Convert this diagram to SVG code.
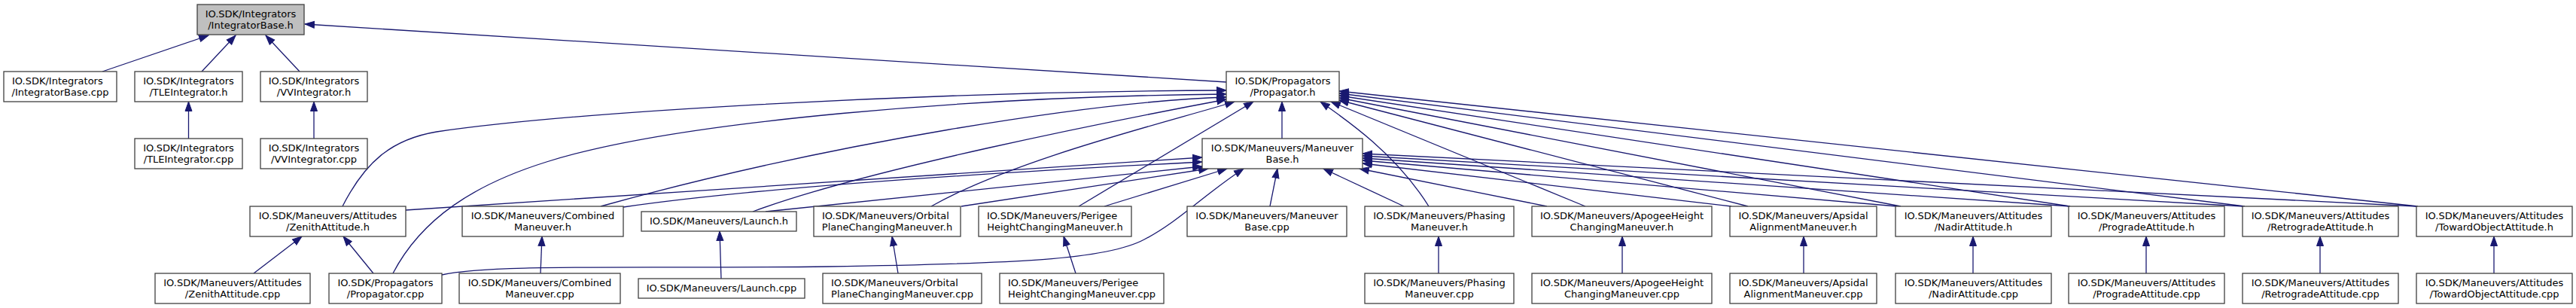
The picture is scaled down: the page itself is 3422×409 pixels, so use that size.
<svg xmlns="http://www.w3.org/2000/svg" width="3422" height="409" viewBox="0 0 3422 409">
<defs>
<style>
.n rect{fill:#ffffff;stroke:#404040;stroke-width:1.3}
.root rect{fill:#bfbfbf}
text{font-family:"DejaVu Sans","Liberation Sans",sans-serif;font-size:13px;fill:#000000}
.c{text-anchor:middle}
.s{text-anchor:start}
#edges path{fill:none;stroke:#191970;stroke-width:1.3;marker-start:url(#ah)}
</style>
<marker id="ah" markerUnits="userSpaceOnUse" markerWidth="14" markerHeight="11" viewBox="0 0 14 11" refX="13" refY="5.5" orient="auto-start-reverse">
<path d="M0.5,1 L13,5.5 L0.5,10 z" fill="#191970" stroke="#191970" stroke-width="1"/>
</marker>
</defs>
<rect width="3422" height="409" fill="#ffffff"/>
<g id="edges">
<path d="M277,47 L136,95"/>
<path d="M313,47 L268,95"/>
<path d="M353,47 L398,95"/>
<path d="M405,32 L1629,109"/>
<path d="M250.5,135 L250.5,184"/>
<path d="M417,135 L417,184"/>
<path d="M1703,135 L1703,184"/>
<path d="M1629,120 C1200,122 750,150 580,175 C520,185 485,215 455,274"/>
<path d="M1629,125 C1300,128 900,160 726,215 C630,245 560,290 522,363"/>
<path d="M1629,129 C1450,135 1100,190 798,274"/>
<path d="M1629,132 C1480,160 1150,225 1000,281"/>
<path d="M1640,135 C1560,160 1350,210 1237,274"/>
<path d="M1665,135 L1433,274"/>
<path d="M1754,135 C1790,160 1855,205 1898,274"/>
<path d="M1768,135 L2106,274"/>
<path d="M1779,133 L2322,274"/>
<path d="M1779,130 L2525,274"/>
<path d="M1779,127 L2750,274"/>
<path d="M1779,124 L2982,274"/>
<path d="M1779,121 L3212,274"/>
<path d="M1597,209 L539,279"/>
<path d="M1597,215 C1300,230 1000,250 828,275"/>
<path d="M1597,221 L1017,281"/>
<path d="M1605,224 L1277,274"/>
<path d="M1630,224 L1467,274"/>
<path d="M1652,224 C1600,258 1565,295 1520,318 C1470,345 1350,350 1100,354 C850,357 650,350 587,365"/>
<path d="M1697,224 L1687,274"/>
<path d="M1758,224 L1865,274"/>
<path d="M1806,224 L2055,274"/>
<path d="M1810,217 L2300,274"/>
<path d="M1810,213 L2520,274"/>
<path d="M1810,210 L2750,274"/>
<path d="M1810,207 L2980,274"/>
<path d="M1810,204 L3210,274"/>
<path d="M401,314 L337,363"/>
<path d="M456,314 L496,363"/>
<path d="M720,314 L718,363"/>
<path d="M956,307 L958,370"/>
<path d="M1185,314 L1193,363"/>
<path d="M1413,314 L1429,363"/>
<path d="M1911,314 L1911,363"/>
<path d="M2155,314 L2155,363"/>
<path d="M2396,314 L2396,363"/>
<path d="M2621,314 L2621,363"/>
<path d="M2851,314 L2851,363"/>
<path d="M3082,314 L3082,363"/>
<path d="M3313,314 L3313,363"/>
</g>
<g id="integratorbase_h" class="n root"><rect x="262" y="6" width="142" height="40"/><text class="c" x="333" y="23">IO.SDK/Integrators</text><text class="c" x="333" y="38">/IntegratorBase.h</text></g>
<g id="integratorbase_cpp" class="n"><rect x="5" y="95" width="150" height="40"/><text class="s" x="16" y="112">IO.SDK/Integrators</text><text class="c" x="80" y="127">/IntegratorBase.cpp</text></g>
<g id="tleintegrator_h" class="n"><rect x="179" y="95" width="143" height="40"/><text class="c" x="250.5" y="112">IO.SDK/Integrators</text><text class="c" x="250.5" y="127">/TLEIntegrator.h</text></g>
<g id="vvintegrator_h" class="n"><rect x="346" y="95" width="142" height="40"/><text class="c" x="417" y="112">IO.SDK/Integrators</text><text class="c" x="417" y="127">/VVIntegrator.h</text></g>
<g id="propagator_h" class="n"><rect x="1629" y="95" width="150" height="40"/><text class="c" x="1704" y="112">IO.SDK/Propagators</text><text class="c" x="1704" y="127">/Propagator.h</text></g>
<g id="tleintegrator_cpp" class="n"><rect x="179" y="184" width="143" height="40"/><text class="c" x="250.5" y="201">IO.SDK/Integrators</text><text class="c" x="250.5" y="216">/TLEIntegrator.cpp</text></g>
<g id="vvintegrator_cpp" class="n"><rect x="346" y="184" width="142" height="40"/><text class="c" x="417" y="201">IO.SDK/Integrators</text><text class="c" x="417" y="216">/VVIntegrator.cpp</text></g>
<g id="maneuverbase_h" class="n"><rect x="1597" y="184" width="213" height="40"/><text class="c" x="1703.5" y="201">IO.SDK/Maneuvers/Maneuver</text><text class="c" x="1703.5" y="216">Base.h</text></g>
<g id="zenithattitude_h" class="n"><rect x="332" y="274" width="207" height="40"/><text class="c" x="435.5" y="291">IO.SDK/Maneuvers/Attitudes</text><text class="c" x="435.5" y="306">/ZenithAttitude.h</text></g>
<g id="combinedmaneuver_h" class="n"><rect x="614" y="274" width="214" height="40"/><text class="c" x="721" y="291">IO.SDK/Maneuvers/Combined</text><text class="c" x="721" y="306">Maneuver.h</text></g>
<g id="launch_h" class="n"><rect x="852" y="281" width="206" height="26"/><text class="c" x="955" y="298">IO.SDK/Maneuvers/Launch.h</text></g>
<g id="orbitalplanechangingmaneuver_h" class="n"><rect x="1081" y="274" width="195" height="40"/><text class="s" x="1092" y="291">IO.SDK/Maneuvers/Orbital</text><text class="c" x="1178.5" y="306">PlaneChangingManeuver.h</text></g>
<g id="perigeeheightchangingmaneuver_h" class="n"><rect x="1300" y="274" width="203" height="40"/><text class="s" x="1311" y="291">IO.SDK/Maneuvers/Perigee</text><text class="c" x="1401.5" y="306">HeightChangingManeuver.h</text></g>
<g id="maneuverbase_cpp" class="n"><rect x="1577" y="274" width="212" height="40"/><text class="c" x="1683" y="291">IO.SDK/Maneuvers/Maneuver</text><text class="c" x="1683" y="306">Base.cpp</text></g>
<g id="phasingmaneuver_h" class="n"><rect x="1813" y="274" width="198" height="40"/><text class="c" x="1912" y="291">IO.SDK/Maneuvers/Phasing</text><text class="c" x="1912" y="306">Maneuver.h</text></g>
<g id="apogeeheightchangingmaneuver_h" class="n"><rect x="2035" y="274" width="239" height="40"/><text class="c" x="2154.5" y="291">IO.SDK/Maneuvers/ApogeeHeight</text><text class="c" x="2154.5" y="306">ChangingManeuver.h</text></g>
<g id="apsidalalignmentmaneuver_h" class="n"><rect x="2298" y="274" width="195" height="40"/><text class="c" x="2395.5" y="291">IO.SDK/Maneuvers/Apsidal</text><text class="c" x="2395.5" y="306">AlignmentManeuver.h</text></g>
<g id="nadirattitude_h" class="n"><rect x="2518" y="274" width="207" height="40"/><text class="c" x="2621.5" y="291">IO.SDK/Maneuvers/Attitudes</text><text class="c" x="2621.5" y="306">/NadirAttitude.h</text></g>
<g id="progradeattitude_h" class="n"><rect x="2748" y="274" width="207" height="40"/><text class="c" x="2851.5" y="291">IO.SDK/Maneuvers/Attitudes</text><text class="c" x="2851.5" y="306">/ProgradeAttitude.h</text></g>
<g id="retrogradeattitude_h" class="n"><rect x="2979" y="274" width="207" height="40"/><text class="c" x="3082.5" y="291">IO.SDK/Maneuvers/Attitudes</text><text class="c" x="3082.5" y="306">/RetrogradeAttitude.h</text></g>
<g id="towardobjectattitude_h" class="n"><rect x="3210" y="274" width="207" height="40"/><text class="c" x="3313.5" y="291">IO.SDK/Maneuvers/Attitudes</text><text class="c" x="3313.5" y="306">/TowardObjectAttitude.h</text></g>
<g id="zenithattitude_cpp" class="n"><rect x="206" y="363" width="206" height="40"/><text class="c" x="309" y="380">IO.SDK/Maneuvers/Attitudes</text><text class="c" x="309" y="395">/ZenithAttitude.cpp</text></g>
<g id="propagator_cpp" class="n"><rect x="437" y="363" width="150" height="40"/><text class="c" x="512" y="380">IO.SDK/Propagators</text><text class="c" x="512" y="395">/Propagator.cpp</text></g>
<g id="combinedmaneuver_cpp" class="n"><rect x="610" y="363" width="214" height="40"/><text class="c" x="717" y="380">IO.SDK/Maneuvers/Combined</text><text class="c" x="717" y="395">Maneuver.cpp</text></g>
<g id="launch_cpp" class="n"><rect x="848" y="370" width="221" height="26"/><text class="c" x="958.5" y="387">IO.SDK/Maneuvers/Launch.cpp</text></g>
<g id="orbitalplanechangingmaneuver_cpp" class="n"><rect x="1093" y="363" width="211" height="40"/><text class="s" x="1104" y="380">IO.SDK/Maneuvers/Orbital</text><text class="c" x="1198.5" y="395">PlaneChangingManeuver.cpp</text></g>
<g id="perigeeheightchangingmaneuver_cpp" class="n"><rect x="1328" y="363" width="218" height="40"/><text class="s" x="1339" y="380">IO.SDK/Maneuvers/Perigee</text><text class="c" x="1437" y="395">HeightChangingManeuver.cpp</text></g>
<g id="phasingmaneuver_cpp" class="n"><rect x="1813" y="363" width="198" height="40"/><text class="c" x="1912" y="380">IO.SDK/Maneuvers/Phasing</text><text class="c" x="1912" y="395">Maneuver.cpp</text></g>
<g id="apogeeheightchangingmaneuver_cpp" class="n"><rect x="2035" y="363" width="239" height="40"/><text class="c" x="2154.5" y="380">IO.SDK/Maneuvers/ApogeeHeight</text><text class="c" x="2154.5" y="395">ChangingManeuver.cpp</text></g>
<g id="apsidalalignmentmaneuver_cpp" class="n"><rect x="2298" y="363" width="195" height="40"/><text class="c" x="2395.5" y="380">IO.SDK/Maneuvers/Apsidal</text><text class="c" x="2395.5" y="395">AlignmentManeuver.cpp</text></g>
<g id="nadirattitude_cpp" class="n"><rect x="2518" y="363" width="207" height="40"/><text class="c" x="2621.5" y="380">IO.SDK/Maneuvers/Attitudes</text><text class="c" x="2621.5" y="395">/NadirAttitude.cpp</text></g>
<g id="progradeattitude_cpp" class="n"><rect x="2748" y="363" width="207" height="40"/><text class="c" x="2851.5" y="380">IO.SDK/Maneuvers/Attitudes</text><text class="c" x="2851.5" y="395">/ProgradeAttitude.cpp</text></g>
<g id="retrogradeattitude_cpp" class="n"><rect x="2979" y="363" width="207" height="40"/><text class="c" x="3082.5" y="380">IO.SDK/Maneuvers/Attitudes</text><text class="c" x="3082.5" y="395">/RetrogradeAttitude.cpp</text></g>
<g id="towardobjectattitude_cpp" class="n"><rect x="3210" y="363" width="207" height="40"/><text class="c" x="3313.5" y="380">IO.SDK/Maneuvers/Attitudes</text><text class="c" x="3313.5" y="395">/TowardObjectAttitude.cpp</text></g>
</svg>
